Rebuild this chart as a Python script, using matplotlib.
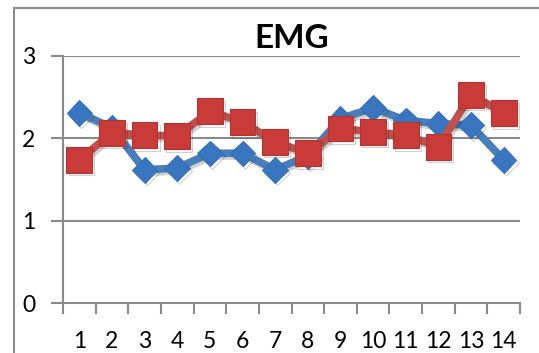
import matplotlib
matplotlib.use("Agg")
import matplotlib.pyplot as plt
from matplotlib.lines import Line2D
from matplotlib.ticker import FixedLocator
import matplotlib.patheffects as pe

categories = [str(i) for i in range(1, 15)]
blue_values = [2.31, 2.13, 1.62, 1.64, 1.82, 1.82, 1.62, 1.79, 2.24, 2.37, 2.22, 2.18, 2.16, 1.74]
red_values = [1.74, 2.07, 2.04, 2.03, 2.33, 2.20, 1.96, 1.82, 2.12, 2.08, 2.04, 1.90, 2.53, 2.31]
y_ticks = [0, 1, 2, 3]
title = "EMG"

plt.rcParams['font.family'] = ['Lato', 'DejaVu Sans']

fig = plt.figure(figsize=(5.39, 3.53), dpi=100)
ax = fig.add_axes([63/539, (353-303.3)/353, (520-63)/539, (303.3-56)/353])

x = list(range(1, len(categories) + 1))
grid_c = '#8a8a8a'

shadow = [pe.SimpleLineShadow(offset=(1.5, -2), shadow_color='#000000', alpha=0.18), pe.Normal()]

ax.plot(x, blue_values, color='#4A7EBB', lw=5.5, marker='D', ms=13,
        markerfacecolor='#3A75C0', markeredgecolor='#3A6FB2', markeredgewidth=0.8,
        solid_joinstyle='round', zorder=3, path_effects=shadow)
ax.plot(x, red_values, color='#C0504D', lw=5.5, marker='s', ms=18.5,
        markerfacecolor='#C83B39', markeredgecolor='#B03532', markeredgewidth=0.8,
        solid_joinstyle='round', zorder=4, path_effects=shadow)

ax.set_xlim(0.5, len(categories) + 0.5)
ax.set_ylim(0, 3)
ax.set_yticks(y_ticks)
ax.set_yticklabels([str(t) for t in y_ticks])
ax.set_xticks(x)
ax.set_xticklabels(categories)
ax.xaxis.set_minor_locator(FixedLocator([i + 0.5 for i in range(0, len(categories) + 1)]))

for t in y_ticks[1:]:
    ax.axhline(t, color=grid_c, lw=1.5, zorder=1)

for s in ['top', 'right']:
    ax.spines[s].set_visible(False)
for s in ['left', 'bottom']:
    ax.spines[s].set_color(grid_c)
    ax.spines[s].set_linewidth(1.5)

ax.tick_params(axis='x', which='major', length=0, pad=20, labelsize=16.5)
ax.tick_params(axis='x', which='minor', length=8, width=1.5, color=grid_c, direction='out')
ax.tick_params(axis='y', which='major', length=9, width=1.5, color=grid_c, direction='out',
               pad=11, labelsize=16.5)

ax.set_title(title, fontsize=24, fontweight='bold', pad=6)

# chart area frame
fig.add_artist(Line2D([14/539, 14/539], [0, 1 - 8/353], transform=fig.transFigure,
                      color='#8c8c8c', lw=1.5))
fig.add_artist(Line2D([14/539, 1], [1 - 8/353, 1 - 8/353], transform=fig.transFigure,
                      color='#8c8c8c', lw=1.5))

fig.savefig('out.png', dpi=100)
